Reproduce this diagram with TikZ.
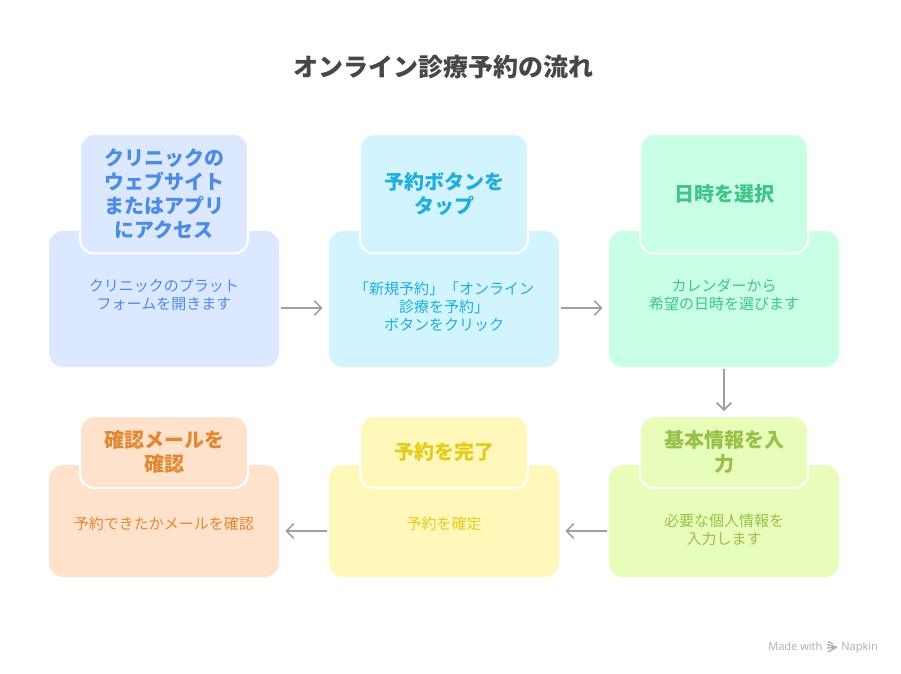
\documentclass[tikz,border=0pt]{standalone}
\usepackage{fontspec}
\setmainfont{Noto Sans CJK JP}
\newfontfamily\markfont{Open Sans}
\usetikzlibrary{arrows.meta}
\definecolor{bluefill}{HTML}{DCE8FF}
\definecolor{bluetext}{HTML}{4C8CE4}
\definecolor{cyanfill}{HTML}{D1F4FF}
\definecolor{cyantext}{HTML}{22AEDC}
\definecolor{mintfill}{HTML}{C9FFE5}
\definecolor{minttext}{HTML}{40C488}
\definecolor{limefill}{HTML}{E8FDB9}
\definecolor{limetext}{HTML}{98C04A}
\definecolor{yellowfill}{HTML}{FFF8BA}
\definecolor{yellowtext}{HTML}{E3CC1A}
\definecolor{orangefill}{HTML}{FEE2CC}
\definecolor{orangetext}{HTML}{E08834}
\definecolor{arrowgray}{HTML}{A0A0A0}
\tikzset{
  cardbig/.style={fill=#1,rounded corners=10.5pt,minimum width=172.5pt,minimum height=102pt,inner sep=0pt},
  cardlow/.style={fill=#1,rounded corners=10.5pt,minimum width=172.5pt,minimum height=84pt,inner sep=0pt},
  headbig/.style={fill=#1,draw=white,line width=1.5pt,rounded corners=10.5pt,minimum width=126pt,minimum height=89.6pt,inner sep=0pt},
  headlow/.style={fill=#1,draw=white,line width=1.5pt,rounded corners=10.5pt,minimum width=126pt,minimum height=53.8pt,inner sep=0pt},
  headtext/.style={text=#1,align=center,font=\fontsize{15pt}{18.1pt}\selectfont\bfseries},
  bodytext/.style={text=#1,align=center,font=\fontsize{11.25pt}{13.6pt}\selectfont},
  flow/.style={draw=arrowgray,line width=1.3pt,-{Straight Barb[length=5.5pt,width=11pt,line width=1.3pt]}}
}
\begin{document}
\begin{tikzpicture}[x=0.75pt,y=-0.75pt]
  \useasboundingbox (0,0) rectangle (901,674);
  \node[text=black!72,font=\fontsize{18.75pt}{22pt}\selectfont\bfseries] (title) at (443.5,67.5) {オンライン診療予約の流れ};
  % Top row
  \node[cardbig=bluefill] (card1) at (164,299) {};
  \node[headbig=bluefill,headtext=bluetext] (head1) at (164,193.75) {クリニックの\\ウェブサイト\\またはアプリ\\にアクセス};
  \node[bodytext=bluetext] (text1) at (164,295) {クリニックのプラット\\フォームを開きます};
  \node[cardbig=cyanfill] (card2) at (444,299) {};
  \node[headbig=cyanfill,headtext=cyantext] (head2) at (444,193.75) {予約ボタンを\\タップ};
  \node[bodytext=cyantext] (text2) at (444,307) {「新規予約」「オンライン\\診療を予約」\\ボタンをクリック};
  \node[cardbig=mintfill] (card3) at (724,299) {};
  \node[headbig=mintfill,headtext=minttext] (head3) at (724,193.75) {日時を選択};
  \node[bodytext=minttext] (text3) at (724,295) {カレンダーから\\希望の日時を選びます};
  % Bottom row
  \node[cardlow=limefill] (card4) at (724,521) {};
  \node[headlow=limefill,headtext=limetext] (head4) at (724,452) {基本情報を入\\力};
  \node[bodytext=limetext] (text4) at (724,529.5) {必要な個人情報を\\入力します};
  \node[cardlow=yellowfill] (card5) at (444,521) {};
  \node[headlow=yellowfill,headtext=yellowtext] (head5) at (444,452) {予約を完了};
  \node[bodytext=yellowtext] (text5) at (444,523.5) {予約を確定};
  \node[cardlow=orangefill] (card6) at (164,521) {};
  \node[headlow=orangefill,headtext=orangetext] (head6) at (164,452) {確認メールを\\確認};
  \node[bodytext=orangetext] (text6) at (164,523.5) {予約できたかメールを確認};
  % Arrows
  \draw[flow,shorten <=1.5pt,shorten >=4.5pt] ([yshift=-6.75pt]card1.east) -- ([yshift=-6.75pt]card2.west);
  \draw[flow,shorten <=1.5pt,shorten >=4.5pt] ([yshift=-6.75pt]card2.east) -- ([yshift=-6.75pt]card3.west);
  \draw[flow,shorten <=1.5pt,shorten >=3pt] (card3.south) -- (head4.north);
  \draw[flow,shorten <=1.5pt,shorten >=4.5pt] ([yshift=-7.5pt]card4.west) -- ([yshift=-7.5pt]card5.east);
  \draw[flow,shorten <=1.5pt,shorten >=4.5pt] ([yshift=-7.5pt]card5.west) -- ([yshift=-7.5pt]card6.east);
  % Watermark
  \node[anchor=base west,inner sep=0pt,text=black!32,font=\markfont\fontsize{8.3pt}{10pt}\selectfont] (madewith) at (768,650) {Made with};
  \node[anchor=base west,inner sep=0pt,text=black!32,font=\markfont\fontsize{8.3pt}{10pt}\selectfont] (napkin) at (841,650) {Napkin};
  \draw[black!32,line width=1pt] (828,641.5)--(833,644) (827,644.5)--(837,647) (827,648)--(834,647.5) (828,652)--(836,647.5);
\end{tikzpicture}
\end{document}
